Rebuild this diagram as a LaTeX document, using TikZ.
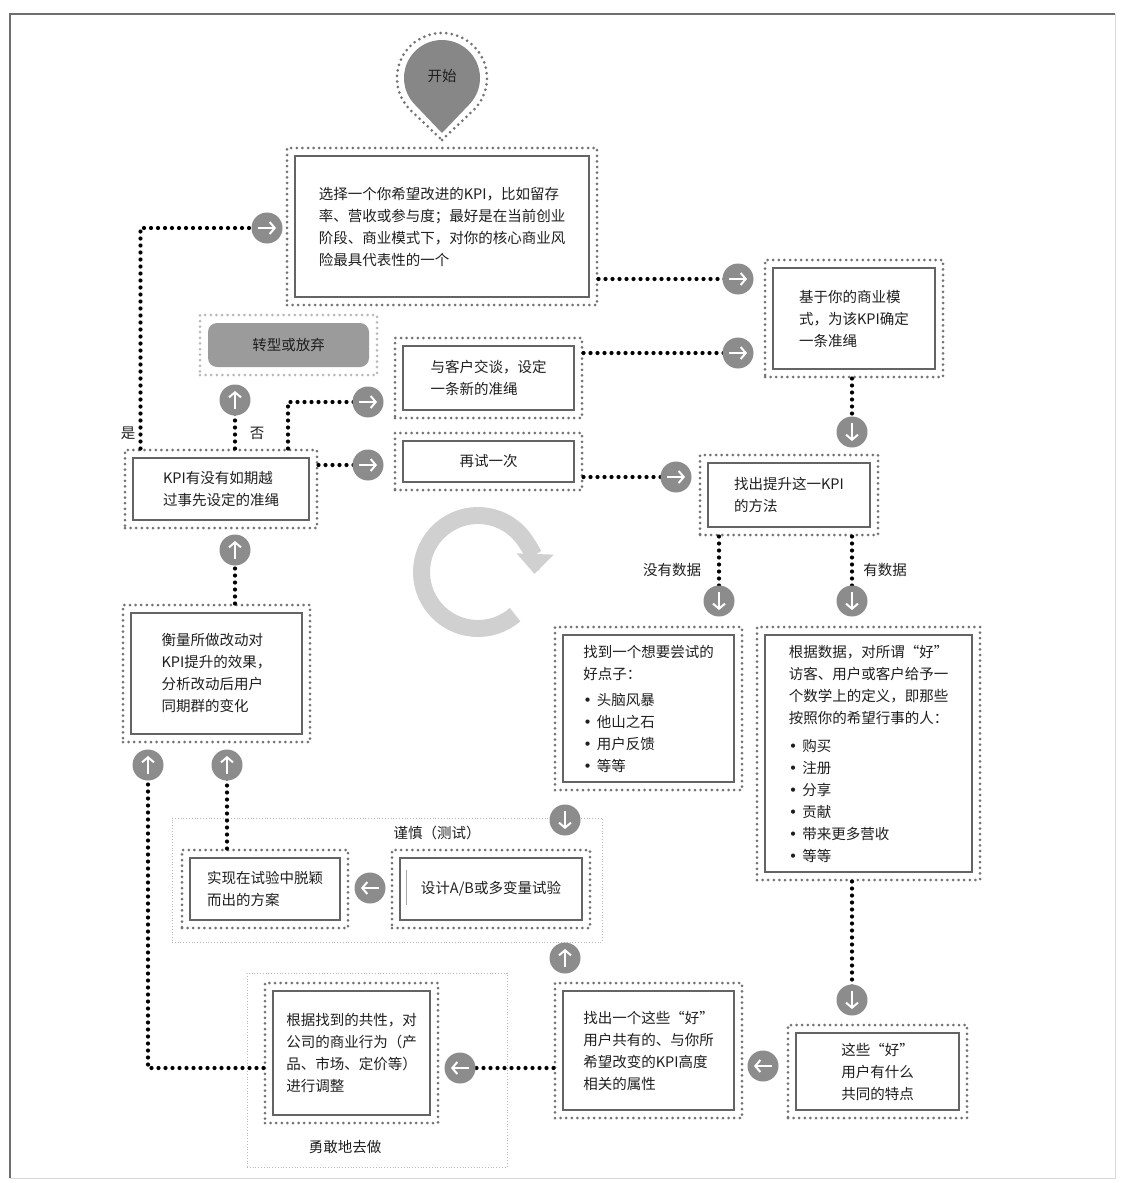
\documentclass[tikz,border=0pt]{standalone}
\usepackage{fontspec}
\setmainfont{Noto Sans CJK SC}
\newfontfamily\dejavu{DejaVu Sans}
\usetikzlibrary{arrows.meta,calc}
\newcommand\fs{\fontsize{14.5}{22}\selectfont}
\newcommand\bul{{\dejavu •}\hspace{5pt}}
\definecolor{txt}{RGB}{30,30,30}
\definecolor{dotgray}{RGB}{115,115,115}
\definecolor{innerc}{RGB}{100,100,100}
\definecolor{cgray}{RGB}{140,140,140}
\definecolor{pingray}{RGB}{135,135,135}
\definecolor{cycc}{RGB}{208,208,208}
\definecolor{pivg}{RGB}{155,155,155}
\definecolor{lightdot}{RGB}{185,185,185}
\definecolor{framec}{RGB}{110,110,110}
\tikzset{
  box/.style={draw=dotgray, dash pattern=on 0pt off 5.6pt, line cap=round, line width=3pt,
    inner sep=0pt, align=left, font=\fs, text=txt,
    path picture={\draw[innerc, line width=1.8pt, solid]
      ([shift={(8pt,-8pt)}]path picture bounding box.north west) rectangle
      ([shift={(-8pt,8pt)}]path picture bounding box.south east);}},
  pivbox/.style={draw=lightdot, dash pattern=on 0pt off 5.6pt, line cap=round, line width=3pt,
    inner sep=0pt, align=center, font=\fs, text=txt,
    path picture={\fill[pivg, rounded corners=9pt]
      ([shift={(8pt,-8pt)}]path picture bounding box.north west) rectangle
      ([shift={(-8pt,8pt)}]path picture bounding box.south east);}},
  grp/.style={draw=lightdot, dash pattern=on 1pt off 1.8pt, line width=1pt, inner sep=0pt},
  conn/.style={draw=black, line width=4.2pt, dash pattern=on 0pt off 7pt, line cap=round},
  circ/.style={circle, fill=cgray, minimum size=31pt, inner sep=0pt},
  arr/.style={circ, path picture={\draw[white, line width=2pt, -{Straight Barb[length=5pt,width=12pt]}]
      ($(path picture bounding box.center)+(#1+180:9pt)$) -- ($(path picture bounding box.center)+(#1:9pt)$);}},
  lbl/.style={font=\fs, text=txt, inner sep=0pt}
}
\begin{document}
\begin{tikzpicture}[x=1pt,y=-1pt]
\useasboundingbox (0,0) rectangle (1120,1183);
% outer frame
\draw[gray!30, line width=1pt] (1115,14) -- (1115,1178) -- (10,1178);
\draw[framec, line width=2pt] (10,1178) -- (10,14) -- (1115,14);

% groups
\node[grp, minimum width=430pt, minimum height=124pt] (g1) at (387,880) {};
\node[grp, minimum width=260pt, minimum height=194pt] (g2) at (377,1070) {};
\node[lbl] (g1l) at (437,833) {谨慎（测试）};
\node[lbl] (g2l) at (345,1147) {勇敢地去做};

% cycle arrow
\coordinate (cc) at (478,572);
\draw[cycc, line width=17pt, -{Triangle[width=36pt,length=20pt]}]
  ($(cc)+(-49:56.5pt)$) arc[start angle=-49, end angle=-362, radius=56.5pt];

% start pin
\coordinate (pc) at (442,78);
\fill[pingray] ($(pc)+(0,55)$) -- ($(pc)+(-43.7:38pt)$) arc[start angle=-43.7, end angle=223.7, radius=38pt] -- cycle;
\draw[draw=dotgray, dash pattern=on 0pt off 5.6pt, line cap=round, line width=3pt]
  ($(pc)+(0,62)$) -- ($(pc)+(-46.5:45pt)$) arc[start angle=-46.5, end angle=226.5, radius=45pt] -- cycle;
\node[lbl] (start) at (442,76) {开始};

% boxes
\node[box, minimum width=310pt, minimum height=157pt] (b1) at (442,226.5)
  {选择一个你希望改进的KPI，比如留存\\率、营收或参与度；最好是在当前创业\\阶段、商业模式下，对你的核心商业风\\险最具代表性的一个};
\node[box, minimum width=178pt, minimum height=117pt] (b2) at (854,318.5)
  {基于你的商业模\\式，为该KPI确定\\一条准绳};
\node[box, minimum width=178pt, minimum height=80pt] (b3) at (789,495)
  {找出提升这一KPI\\的方法};
\node[box, minimum width=187pt, minimum height=163pt] (b4) at (648.5,708.5)
  {找到一个想要尝试的\\好点子：\\[4pt]\bul 头脑风暴\\\bul 他山之石\\\bul 用户反馈\\\bul 等等};
\node[box, minimum width=223pt, minimum height=253pt] (b5) at (868.5,753.5)
  {根据数据，对所谓“好”\\访客、用户或客户给予一\\个数学上的定义，即那些\\按照你的希望行事的人：\\[6pt]\bul 购买\\\bul 注册\\\bul 分享\\\bul 贡献\\\bul 带来更多营收\\\bul 等等};
\node[box, minimum width=179pt, minimum height=93pt] (b6) at (877.5,1071.5)
  {这些“好”\\用户有什么\\共同的特点};
\node[box, minimum width=187pt, minimum height=135pt] (b7) at (648.5,1050.5)
  {找出一个这些“好”\\用户共有的、与你所\\希望改变的KPI高度\\相关的属性};
\node[box, minimum width=173pt, minimum height=140pt] (b8) at (351.5,1053)
  {根据找到的共性，对\\公司的商业行为（产\\品、市场、定价等）\\进行调整};
\node[box, minimum width=198pt, minimum height=78pt] (b9) at (491,889)
  {设计A/B或多变量试验};
\node[box, minimum width=166pt, minimum height=78pt] (b10) at (265,889)
  {实现在试验中脱颖\\而出的方案};
\node[box, minimum width=187pt, minimum height=137pt] (b11) at (216.5,673.5)
  {衡量所做改动对\\KPI提升的效果，\\分析改动后用户\\同期群的变化};
\node[box, minimum width=192pt, minimum height=78pt] (b12) at (221,489)
  {KPI有没有如期越\\过事先设定的准绳};
\node[pivbox, minimum width=177pt, minimum height=60pt] (b13) at (288.5,345)
  {转型或放弃};
\node[box, minimum width=187pt, minimum height=80pt] (b14) at (488.5,378)
  {与客户交谈，设定\\一条新的准绳};
\node[box, minimum width=187pt, minimum height=57pt] (b15) at (488.5,461.5)
  {再试一次};
\draw[gray!70, line width=0.8pt] (406,870) -- (406,905);

% labels
\node[lbl] (yes) at (128,433) {是};
\node[lbl] (no) at (257,433) {否};
\node[lbl] (nodata) at (672,570) {没有数据};
\node[lbl] (data) at (885,570) {有数据};

% circle coordinates
\coordinate (p1) at (267,228);
\coordinate (p2) at (738,279);
\coordinate (p3) at (738,353);
\coordinate (p4) at (852,432);
\coordinate (p5) at (676,477);
\coordinate (p6) at (719,601);
\coordinate (p7) at (852,601);
\coordinate (p8) at (565,820);
\coordinate (p9) at (852,1000);
\coordinate (p10) at (763,1066);
\coordinate (p11) at (565,958);
\coordinate (p12) at (460,1068);
\coordinate (p13) at (370,888);
\coordinate (p14) at (148,765);
\coordinate (p15) at (227,765);
\coordinate (p16) at (235,550);
\coordinate (p17) at (235,400);
\coordinate (p18) at (368,402);
\coordinate (p19) at (368,465);

% connectors (drawn under circles)
\draw[conn] ([xshift=17pt]b12.north west) |- (p1);
\draw[conn] (b1.east |- p2) -- (p2);
\draw[conn] (b14.east |- p3) -- (p3);
\draw[conn] (p4 |- b2.south) -- (p4);
\draw[conn] (b15.east |- p5) -- (p5);
\draw[conn] (p6 |- b3.south) -- (p6);
\draw[conn] (p7 |- b3.south) -- (p7);
\draw[conn] (p9 |- b5.south) -- (p9);
\draw[conn] (b7.west |- p12) -- (p12);
\draw[conn] (b8.west |- p12) -| (p14);
\draw[conn] (p15 |- b10.north) -- (p15);
\draw[conn] (p16 |- b11.north) -- (p16);
\draw[conn] (p17 |- b12.north) -- (p17);
\draw[conn] ([xshift=67pt]b12.north) |- (p18);
\draw[conn] (b12.east |- p19) -- (p19);

% arrow circles
\node[arr=0] (c1) at (p1) {};
\node[arr=0] (c2) at (p2) {};
\node[arr=0] (c3) at (p3) {};
\node[arr=-90] (c4) at (p4) {};
\node[arr=0] (c5) at (p5) {};
\node[arr=-90] (c6) at (p6) {};
\node[arr=-90] (c7) at (p7) {};
\node[arr=-90] (c8) at (p8) {};
\node[arr=-90] (c9) at (p9) {};
\node[arr=180] (c10) at (p10) {};
\node[arr=90] (c11) at (p11) {};
\node[arr=180] (c12) at (p12) {};
\node[arr=180] (c13) at (p13) {};
\node[arr=90] (c14) at (p14) {};
\node[arr=90] (c15) at (p15) {};
\node[arr=90] (c16) at (p16) {};
\node[arr=90] (c17) at (p17) {};
\node[arr=0] (c18) at (p18) {};
\node[arr=0] (c19) at (p19) {};
\end{tikzpicture}
\end{document}
